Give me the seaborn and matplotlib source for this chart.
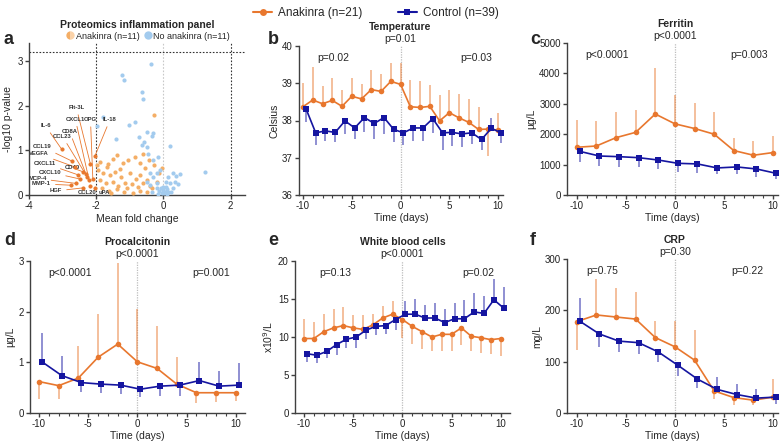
import numpy as np
import pandas as pd
import matplotlib
matplotlib.use("Agg")
import matplotlib.pyplot as plt
import seaborn as sns
from matplotlib.lines import Line2D

# ---- colours
ORANGE = "#E8772E"
BLUE = "#1515A0"
ORANGE_LIGHT = "#F4AE66"
BLUE_LIGHT = "#A3CBEE"

# ---- panel a : proteomics volcano
ana_fc = [-0.27, -1.89, -1.64, -1.49, -1.19, -1.04, -0.85, -0.70, -0.43, -0.55, -0.28, -0.03,
          -1.94, -1.79, -1.59, -1.44, -1.27, -0.99, -0.82, -0.70, -0.50, -1.89, -1.71, -1.49,
          -1.34, -1.14, -0.92, -0.75, -0.60, -1.84, -1.61, -1.39, -1.17, -1.09, -0.90, -0.70,
          -0.50, -0.35, -0.20, -0.12, -1.69, -1.39, -1.97, -0.62, -1.30, -0.40, -1.55]
ana_p = [1.79, 0.73, 0.69, 0.80, 0.71, 0.78, 0.86, 0.71, 0.78, 0.60, 0.67, 0.60,
         0.56, 0.49, 0.45, 0.52, 0.41, 0.49, 0.37, 0.45, 0.34, 0.34, 0.26, 0.30,
         0.20, 0.28, 0.25, 0.19, 0.28, 0.15, 0.10, 0.13, 0.07, 0.15, 0.05, 0.10,
         0.07, 0.15, 0.30, 0.49, 0.63, 0.90, 0.67, 0.92, 0.58, 0.20, 0.04]
no_ana_fc = [-0.38, -1.24, -1.17, -0.65, -0.60, -1.79, -1.99, -0.85, -1.02, -1.41, -0.50, -0.30,
             -0.35, -0.72, -0.57, -0.65, -0.50, 0.20, -0.45, -0.15, -0.30, 1.24, 0.50, 0.37,
             0.30, 0.15, -0.10, -0.20, -0.40, -0.30, -0.50, 0.08, 0.20, 0.35, 0.45, -0.20,
             -0.40, -0.08, 0.00, 0.05, -0.05, 0.10, -0.12, 0.02, -0.02, 0.15, 0.07, 0.30,
             0.22, -0.20, -0.35, 0.12, -0.15]
no_ana_p = [2.93, 2.69, 2.57, 2.30, 2.16, 1.75, 1.54, 1.64, 1.57, 1.25, 1.42, 1.40,
            1.32, 1.31, 1.19, 1.12, 1.08, 1.11, 0.92, 0.86, 0.78, 0.52, 0.47, 0.43,
            0.50, 0.41, 0.56, 0.49, 0.49, 0.41, 0.30, 0.30, 0.28, 0.30, 0.25, 0.28,
            0.22, 0.15, 0.11, 0.07, 0.05, 0.13, 0.10, 0.04, 0.17, 0.07, 0.19, 0.15,
            0.07, 0.15, 0.07, 0.02, 0.02]

prot_names = ["Flt-3L", "CXCL1", "OPG", "IL-18", "CD8A", "IL-6", "CCL23", "CCL19", "VEGFA",
              "CXCL11", "CD40", "CXCL10", "MCP-4", "MMP-1", "HGF", "CCL20", "uPA"]
prot_fc = [-2.17, -2.21, -2.10, -2.04, -2.27, -3.03, -2.31, -2.72, -2.64,
           -2.53, -2.39, -2.49, -2.60, -2.76, -2.39, -2.17, -2.04]
prot_p = [0.69, 0.33, 0.36, 0.87, 0.40, 1.03, 0.46, 0.76, 0.63,
          0.45, 0.52, 0.36, 0.26, 0.22, 0.16, 0.20, 0.15]
prot_label_x = [-2.59, -2.62, -2.17, -1.59, -2.79, -3.51, -3.00, -3.60, -3.70,
                -3.53, -2.71, -3.38, -3.75, -3.63, -3.20, -2.27, -1.77]
prot_label_y = [1.96, 1.70, 1.69, 1.69, 1.42, 1.55, 1.31, 1.08, 0.92,
                0.71, 0.61, 0.51, 0.37, 0.25, 0.09, 0.05, 0.05]

# ---- panels b-f : clinical parameters
days_daily = [-10, -9, -8, -7, -6, -5, -4, -3, -2, -1, 0, 1, 2, 3, 4, 5, 6, 7, 8, 9, 10]
days_even = [-10, -8, -6, -4, -2, 0, 2, 4, 6, 8, 10]

temp_ana = [38.37, 38.55, 38.45, 38.54, 38.38, 38.65, 38.58, 38.83, 38.78, 39.05, 38.97,
            38.37, 38.35, 38.38, 37.99, 38.21, 38.07, 37.95, 37.76, 37.77, 37.74]
temp_ana_bar = [39.02, 39.44, 38.92, 39.13, 38.81, 39.15, 38.99, 39.35, 39.26, 39.55, 39.55,
                39.10, 39.05, 38.96, 38.68, 38.81, 38.70, 38.58, 38.36, 37.05, 38.20]
temp_ctl = [38.32, 37.67, 37.72, 37.68, 37.99, 37.80, 38.08, 37.92, 38.08, 37.76, 37.67,
            37.80, 37.80, 38.05, 37.67, 37.68, 37.64, 37.67, 37.49, 37.79, 37.67]
temp_ctl_bar = [37.95, 37.35, 37.45, 37.42, 37.65, 37.50, 37.70, 37.50, 37.65, 37.42, 37.33,
                37.45, 37.45, 37.67, 37.22, 37.32, 37.30, 37.38, 37.20, 38.07, 37.40]

fer_ana = [1570, 1612, 1886, 2061, 2664, 2341, 2187, 2000, 1462, 1308, 1396]
fer_ana_bar = [2467, 2445, 2741, 2796, 4189, 3300, 3010, 2715, 1890, 1790, 1945]
fer_ctl = [1436, 1283, 1261, 1228, 1151, 1042, 1022, 890, 923, 857, 714]
fer_ctl_bar = [1096, 965, 910, 910, 844, 758, 736, 692, 692, 604, 516]

pct_ana = [0.62, 0.54, 0.69, 1.10, 1.36, 1.01, 0.88, 0.57, 0.40, 0.40, 0.40]
pct_ana_bar = [0.28, 0.28, 1.32, 1.95, 2.97, 2.05, 1.72, 1.11, 0.20, 0.22, 0.24]
pct_ctl = [1.01, 0.74, 0.60, 0.57, 0.55, 0.47, 0.53, 0.55, 0.64, 0.53, 0.55]
pct_ctl_bar = [1.58, 1.12, 0.41, 0.39, 0.38, 0.32, 0.34, 0.33, 1.01, 0.83, 0.98]

wbc_ana = [9.8, 9.8, 10.7, 11.2, 11.5, 11.2, 11.0, 11.6, 12.5, 13.0, 12.3,
           11.4, 10.7, 10.0, 10.35, 10.35, 11.2, 10.1, 9.9, 9.65, 9.8]
wbc_ana_bar = [12.4, 12.0, 13.0, 13.7, 14.0, 12.9, 12.9, 13.0, 14.1, 14.8, 9.9,
               9.1, 8.4, 8.1, 8.2, 8.2, 8.9, 8.1, 7.9, 7.7, 7.5]
wbc_ctl = [7.8, 7.6, 8.1, 9.0, 9.7, 10.0, 10.9, 11.4, 11.5, 12.3, 13.0,
           13.0, 12.5, 12.5, 11.9, 12.4, 12.4, 13.3, 13.1, 14.9, 13.8]
wbc_ctl_bar = [6.7, 6.6, 7.2, 7.6, 8.5, 8.6, 9.7, 10.2, 10.4, 10.9, 14.8,
               15.0, 14.2, 14.5, 13.7, 14.5, 14.9, 15.8, 15.4, 17.6, 16.6]

crp_ana = [178, 191, 187, 183, 147, 129, 103, 43, 30, 25, 31]
crp_ana_bar = [122, 262, 243, 236, 179, 179, 162, 27, 16, 15, 66]
crp_ctl = [179, 154, 140, 137, 119, 93, 66, 46, 36, 29, 31]
crp_ctl_bar = [224, 128, 118, 114, 100, 72, 48, 70, 56, 47, 18]

sns.set_style("ticks")
plt.rcParams["font.family"] = ["Liberation Sans", "DejaVu Sans"]
plt.rcParams["axes.unicode_minus"] = False
plt.rcParams["axes.linewidth"] = 1.0
plt.rcParams["axes.edgecolor"] = "#404040"
plt.rcParams["xtick.color"] = "#404040"
plt.rcParams["ytick.color"] = "#404040"
plt.rcParams["xtick.labelcolor"] = "#222222"
plt.rcParams["ytick.labelcolor"] = "#222222"

W, H = 783, 441
fig = plt.figure(figsize=(W / 100, H / 100), dpi=100)


def px_axes(left, right, top, bottom):
    return fig.add_axes([left / W, 1 - bottom / H, (right - left) / W, (bottom - top) / H])


def style_axes(ax):
    sns.despine(ax=ax)
    ax.tick_params(axis="both", labelsize=7, length=3, width=1, pad=1.5)
    ax.tick_params(axis="x", which="minor", length=2, width=0.8)


# ---------------- panel a
ax = px_axes(29, 245, 43, 195)
sns.scatterplot(x=ana_fc + prot_fc, y=ana_p + prot_p, ax=ax, color=ORANGE_LIGHT, s=9,
                linewidth=0, zorder=3)
sns.scatterplot(x=no_ana_fc, y=no_ana_p, ax=ax, color=BLUE_LIGHT, s=9, linewidth=0, zorder=3)
ax.scatter(prot_fc, prot_p, color=ORANGE, s=7, linewidth=0, zorder=4)
for name, px_, py_, tx, ty in zip(prot_names, prot_fc, prot_p, prot_label_x, prot_label_y):
    ax.annotate(name, xy=(px_, py_), xytext=(tx, ty), fontsize=4.2, fontweight="bold",
                color="#333333", ha="center", va="center",
                arrowprops=dict(arrowstyle="-", color=ORANGE, lw=0.6, shrinkA=1, shrinkB=0))
ax.axvline(-2, color="#333333", ls=(0, (1.5, 1.5)), lw=0.8)
ax.axvline(2, color="#333333", ls=(0, (1.5, 1.5)), lw=0.8)
ax.axvline(0, color="#C8C8C8", ls=(0, (1.5, 1.5)), lw=0.8)
ax.axhline(3.2, color="#333333", ls=(0, (1.5, 1.5)), lw=0.8)
ax.set_xlim(-4, 2.43)
ax.set_ylim(0, 3.41)
ax.set_xticks([-4, -2, 0, 2])
ax.set_yticks([0, 1, 2, 3])
ax.set_xlabel("Mean fold change", fontsize=7.5, labelpad=2)
ax.set_ylabel("-log10 p-value", fontsize=7.5, labelpad=3)
style_axes(ax)
ax.text(0.5, 1.118, "Proteomics inflammation panel", transform=ax.transAxes, ha="center",
        va="center", fontsize=7.5, fontweight="bold")
handles_a = [Line2D([], [], marker="o", ls="", color=ORANGE_LIGHT, markersize=6, fillstyle="left",
                    markerfacecoloralt="#FAD2A8", markeredgewidth=0),
             Line2D([], [], marker="o", ls="", color=BLUE_LIGHT, markersize=6, markeredgewidth=0)]
ax.legend(handles_a, ["Anakinra (n=11)", "No anakinra (n=11)"], loc="center",
          bbox_to_anchor=(0.55, 1.046), ncol=2, frameon=False, fontsize=6.5,
          handletextpad=0.1, columnspacing=0.4, handlelength=1.0, borderaxespad=0)


# ---------------- panels b-f
def clinical(ax, days, ana, ana_bar, ctl, ctl_bar, ylim, yticks, ylabel, title, p_mid,
             p_left, p_right, xlim, left_x=-6.9, right_x=7.6):
    ctl_days = [d + 0.3 for d in days]
    ax.axvline(0, color="#BDBDBD", ls=(0, (1, 1)), lw=0.9, zorder=0)
    ax.vlines(days, ana, ana_bar, color=ORANGE, alpha=0.6, lw=1.1, zorder=1)
    ax.vlines(ctl_days, ctl, ctl_bar, color=BLUE, alpha=0.6, lw=1.1, zorder=1)
    df = pd.DataFrame({"day": list(days) + ctl_days, "value": list(ana) + list(ctl),
                       "group": ["Anakinra"] * len(days) + ["Control"] * len(days)})
    sns.lineplot(data=df, x="day", y="value", hue="group", style="group",
                 palette={"Anakinra": ORANGE, "Control": BLUE},
                 markers={"Anakinra": "o", "Control": "s"}, dashes=False,
                 markersize=4, markeredgewidth=0, lw=1.2, legend=False, ax=ax, zorder=3)
    ax.set_xlim(*xlim)
    ax.set_ylim(*ylim)
    ax.set_xticks([-10, -5, 0, 5, 10])
    ax.set_xticks(range(-10, 11), minor=True)
    ax.set_yticks(yticks)
    ax.set_xlabel("Time (days)", fontsize=7.5, labelpad=1)
    ax.set_ylabel(ylabel, fontsize=7.5, labelpad=2)
    style_axes(ax)
    tr = ax.get_xaxis_transform()
    ax.text(0, 1.125, title, transform=tr, ha="center", va="center", fontsize=7.5,
            fontweight="bold")
    ax.text(0, 1.045, p_mid, transform=tr, ha="center", va="center", fontsize=7.5)
    ax.text(left_x, 0.92, p_left, transform=tr, ha="center", va="center", fontsize=7.5)
    ax.text(right_x, 0.92, p_right, transform=tr, ha="center", va="center", fontsize=7.5)


ax = px_axes(299, 503, 46, 195)
clinical(ax, days_daily, temp_ana, temp_ana_bar, temp_ctl, temp_ctl_bar, (36, 40),
         [36, 37, 38, 39, 40], "Celsius", "Temperature", "p=0.01", "p=0.02", "p=0.03",
         (-10.41, 10.5), -6.9, 7.8)

ax = px_axes(567, 778, 43, 195)
clinical(ax, days_even, fer_ana, fer_ana_bar, fer_ctl, fer_ctl_bar, (0, 5000),
         [0, 1000, 2000, 3000, 4000, 5000], "µg/L", "Ferritin", "p<0.0001", "p<0.0001",
         "p=0.003", (-10.99, 10.5), -6.95, 7.55)

ax = px_axes(30, 245, 261, 413)
clinical(ax, days_even, pct_ana, pct_ana_bar, pct_ctl, pct_ctl_bar, (0, 3),
         [0, 1, 2, 3], "µg/L", "Procalcitonin", "p<0.0001", "p<0.0001", "p=0.001",
         (-10.92, 10.94), -6.85, 7.5)

ax = px_axes(295, 510, 261, 413)
clinical(ax, days_daily, wbc_ana, wbc_ana_bar, wbc_ctl, wbc_ctl_bar, (0, 20),
         [0, 5, 10, 15, 20], "x10$^9$/L", "White blood cells", "p<0.0001", "p=0.13",
         "p=0.02", (-10.92, 10.94), -6.85, 7.7)

ax = px_axes(567, 778, 259, 413)
clinical(ax, days_even, crp_ana, crp_ana_bar, crp_ctl, crp_ctl_bar, (0, 300),
         [0, 100, 200, 300], "mg/L", "CRP", "p=0.30", "p=0.75", "p=0.22",
         (-10.99, 10.5), -7.4, 7.35)

# ---- panel letters
for letter, x, y in [("a", 4, 40), ("b", 268, 40), ("c", 530, 40),
                     ("d", 4, 240), ("e", 268, 240), ("f", 530, 240)]:
    fig.text(x / W, 1 - y / H, letter, fontsize=13, fontweight="bold", va="center", ha="left")

# ---- shared legend
handles = [Line2D([], [], color=ORANGE, marker="o", markersize=5, lw=1.5, markeredgewidth=0),
           Line2D([], [], color=BLUE, marker="s", markersize=5, lw=1.5, markeredgewidth=0)]
fig.legend(handles, ["Anakinra (n=21)", "Control (n=39)"], loc="center",
           bbox_to_anchor=(376 / W, 1 - 13 / H), ncol=2, frameon=False, fontsize=8.5,
           handlelength=1.6, handletextpad=0.5, columnspacing=3.0)

fig.savefig("out.png", dpi=100)
